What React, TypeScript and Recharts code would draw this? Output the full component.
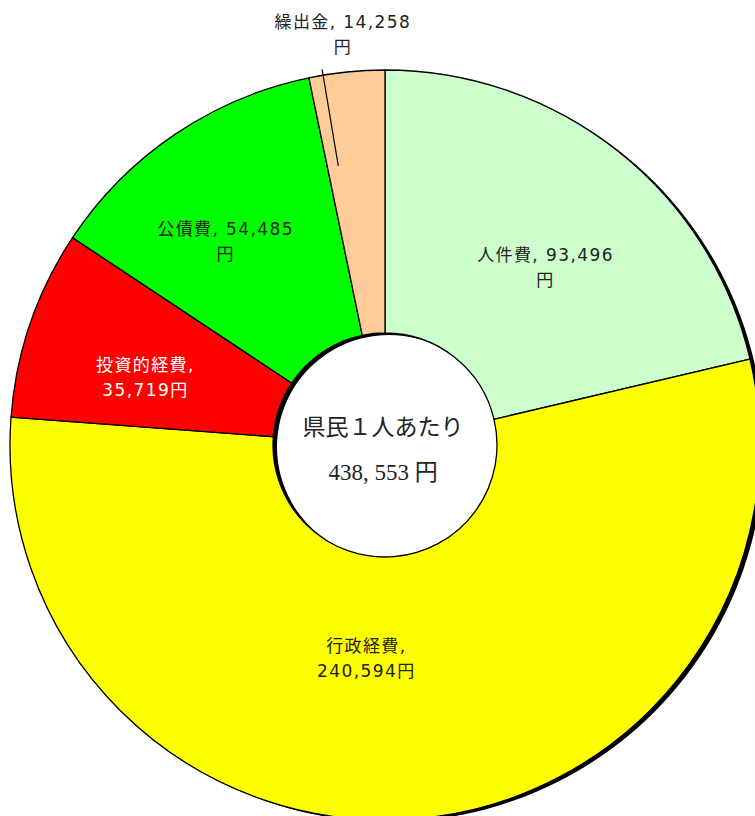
import { PieChart, Pie, Cell, Label } from "recharts";

const categories = ["人件費", "行政経費", "投資的経費", "公債費", "繰出金"];
const amounts = [93496, 240594, 35719, 54485, 14258];
const amountLabels = ["93,496", "240,594", "35,719", "54,485", "14,258"];

const COLORS = ["#CCFFCC", "#FFFF00", "#FF0000", "#00FF00", "#FFCC99"];
const TEXT_COLORS = ["#222", "#222", "#fff", "#222", "#222"];
// label placement per slice: distance from centre, angle nudge (deg, clockwise)
const LABEL_R = [240, 214, 249, 259, 413];
const LABEL_SHIFT = [3.6, 9.5, -3.1, -3.9, 0];

const data = categories.map((name, i) => ({ name, value: amounts[i] }));
const total = amounts.reduce((s, v) => s + v, 0);
const shadowData = [{ name: "shadow", value: total }];

const RAD = Math.PI / 180;
const LABEL_FONT = "'DejaVu Sans', 'Noto Sans CJK JP', sans-serif";

const polar = (cx: number, cy: number, r: number, angle: number) => ({
  x: cx + r * Math.cos(-angle * RAD),
  y: cy + r * Math.sin(-angle * RAD),
});

const renderLabel = (props: any) => {
  const { cx, cy, midAngle, index } = props;
  const angle = midAngle - LABEL_SHIFT[index];
  const p = polar(cx, cy, LABEL_R[index], angle);
  const name = categories[index];
  const amt = amountLabels[index];
  // wrap the way the original did
  const lines =
    index === 0 || index === 3 || index === 4
      ? [`${name}, ${amt}`, "円"]
      : [`${name},`, `${amt}円`];
  const textStyle = {
    fontFamily: LABEL_FONT,
    fontSize: 17,
    letterSpacing: 1.4,
  };
  const a = midAngle + 3.65;
  return (
    <g key={`lbl-${index}`}>
      {index === 4 && (
        <line
          x1={polar(cx, cy, 283, a).x}
          y1={polar(cx, cy, 283, a).y}
          x2={polar(cx, cy, 381, a).x}
          y2={polar(cx, cy, 381, a).y}
          stroke="#000"
          strokeWidth={1.2}
        />
      )}
      {lines.map((t, k) => (
        <text
          key={k}
          x={p.x}
          y={p.y + (k === 0 ? -12 : 13)}
          textAnchor="middle"
          dominantBaseline="central"
          fill={TEXT_COLORS[index]}
          style={textStyle}
        >
          {t}
        </text>
      ))}
    </g>
  );
};

const CenterText = (props: any) => {
  const vb = props.viewBox || {};
  const cx = vb.cx ?? 385;
  const cy = vb.cy ?? 445;
  const style = {
    fontFamily: "'Liberation Serif', 'Noto Sans CJK JP', serif",
    fontSize: 23,
  };
  return (
    <g>
      <text x={cx - 2} y={cy - 18} textAnchor="middle" dominantBaseline="central" fill="#222" style={style}>
        県民１人あたり
      </text>
      <text x={cx - 2} y={cy + 27} textAnchor="middle" dominantBaseline="central" fill="#222" style={style}>
        438, 553 円
      </text>
    </g>
  );
};

export default function App() {
  return (
    <div style={{ position: "absolute", left: 0, top: 0, background: "#fff" }}>
      <PieChart width={755} height={816} margin={{ top: 0, right: 0, bottom: 0, left: 0 }}>
        <Pie
          data={shadowData}
          dataKey="value"
          cx={389}
          cy={447}
          innerRadius={112}
          outerRadius={375}
          startAngle={90}
          endAngle={-270}
          fill="#000"
          stroke="none"
          isAnimationActive={false}
        />
        <Pie
          data={data}
          dataKey="value"
          nameKey="name"
          cx={385}
          cy={445}
          innerRadius={112}
          outerRadius={375}
          startAngle={90}
          endAngle={-270}
          stroke="#000"
          strokeWidth={1.3}
          label={renderLabel}
          labelLine={false}
          isAnimationActive={false}
        >
          {data.map((_, i) => (
            <Cell key={i} fill={COLORS[i]} />
          ))}
          <Label position="center" content={<CenterText />} />
        </Pie>
      </PieChart>
    </div>
  );
}
